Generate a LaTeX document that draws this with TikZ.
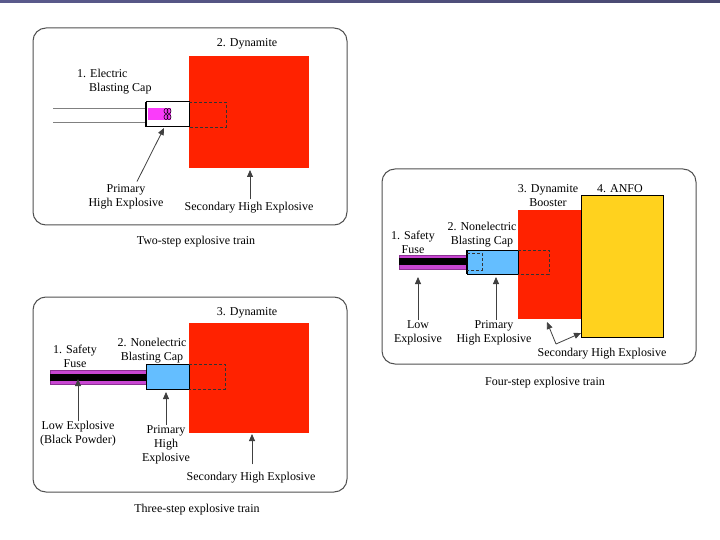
\documentclass[tikz,border=0pt]{standalone}
\usepackage{fontspec}
\setmainfont{Liberation Serif}
\usetikzlibrary{arrows.meta}
\definecolor{dynred}{RGB}{255,34,0}
\definecolor{capmag}{RGB}{250,60,250}
\definecolor{fusemag}{RGB}{200,70,210}
\definecolor{capblue}{RGB}{100,190,255}
\definecolor{anfoyel}{RGB}{255,210,30}
\definecolor{framegray}{RGB}{80,80,80}
\definecolor{topbar}{RGB}{90,90,140}
\tikzset{
  panel/.style={draw=framegray, line width=1pt, rounded corners=13pt},
  lbl/.style={font=\fontsize{12}{14}\selectfont, align=center, inner sep=0pt},
  arr/.style={draw=black!75, line width=0.8pt, -{Triangle[length=7pt,width=6pt]}},
  dashbox/.style={draw=black!80, dashed, line width=0.8pt, dash pattern=on 3pt off 2pt},
  solidbox/.style={draw=black, line width=1pt},
}
\begin{document}
\begin{tikzpicture}[x=1pt,y=-1pt]
\useasboundingbox (0,0) rectangle (720,540);
\fill[white] (0,0) rectangle (720,540);
\fill[left color=topbar, right color=topbar!80!black] (0,0) rectangle (720,2.5);

% ---------- Panel 1: two-step ----------
\draw[panel] (33,28) rectangle (347,225);
\fill[dynred] (189,56) rectangle (309,168);
\draw[gray, line width=0.8pt] (53,108) -- (146,108);
\draw[gray, line width=0.8pt] (53,122) -- (146,122);
\draw[solidbox, fill=white] (146,102) rectangle (189,127);
\draw[line width=1.8pt] (146,102) -- (146,127);
\fill[capmag] (147.5,108.5) rectangle (171,120);
\draw[black, line width=0.6pt] (166,111) ellipse (2pt and 2.5pt);
\draw[black, line width=0.6pt] (169,111) ellipse (2pt and 2.5pt);
\draw[black, line width=0.6pt] (166,117) ellipse (2pt and 2.5pt);
\draw[black, line width=0.6pt] (169,117) ellipse (2pt and 2.5pt);
\draw[dashbox] (189,102) -- (226,102) -- (226,127) -- (189,127);
\node[lbl] (dyn1) at (247,44) {2. Dynamite};
\node[lbl, align=left, anchor=north west] (ebc) at (77,69) {1. Electric\\\hspace*{12pt}Blasting Cap};
\node[lbl] (phe1) at (126,197) {Primary\\High Explosive};
\node[lbl] (she1) at (249,208) {Secondary High Explosive};
\coordinate (t1a) at (164,128);
\coordinate (t1b) at (250,170);
\draw[arr] (phe1.north) ++(11,-3) coordinate (s1a) (s1a) -- (t1a);
\draw[arr] (she1.north) ++(1,-3) coordinate (s1b) (s1b) -- (t1b);
\node[lbl] (cap1) at (196,242) {Two-step explosive train};

% ---------- Panel 2: three-step ----------
\draw[panel] (33,297) rectangle (347,492);
\fill[dynred] (189,323) rectangle (309,433);
\draw[fill=fusemag, draw=fusemag!70!black, line width=0.5pt] (50,370) rectangle (146,384);
\fill[black] (50,374) rectangle (146,381);
\draw[solidbox, fill=capblue] (146,364) rectangle (189,389);
\draw[dashbox] (189,364) -- (225,364) -- (225,389) -- (189,389);
\node[lbl] (dyn2) at (247,313) {3. Dynamite};
\node[lbl] (sf2) at (75,356) {1. Safety\\Fuse};
\node[lbl] (nbc2) at (152,351) {2. Nonelectric\\Blasting Cap};
\node[lbl] (le2) at (78,434) {Low Explosive\\(Black Powder)};
\node[lbl] (phe2) at (166,445) {Primary\\High\\Explosive};
\node[lbl] (she2) at (251,478) {Secondary High Explosive};
\coordinate (t2a) at (78,379);
\coordinate (t2b) at (166,392);
\coordinate (t2c) at (252,434);
\draw[arr] (le2.north) ++(0,0) coordinate (s2a) (s2a) -- (t2a);
\draw[arr] (phe2.north) ++(0,-1) coordinate (s2b) (s2b) -- (t2b);
\draw[arr] (she2.north) ++(1,-8) coordinate (s2c) (s2c) -- (t2c);
\node[lbl] (cap2) at (197,510) {Three-step explosive train};

% ---------- Panel 3: four-step ----------
\draw[panel] (382,169) rectangle (696,364);
\draw[solidbox, fill=anfoyel] (581,196) rectangle (663,337);
\fill[dynred] (518,210) rectangle (581,319);
\draw[fill=fusemag, draw=fusemag!70!black, line width=0.5pt] (399,255) rectangle (467,269);
\fill[black] (399,258) rectangle (467,265);
\draw[solidbox, fill=capblue] (467,250) rectangle (518,274);
\draw[line width=1.8pt] (467,250) -- (467,274);
\draw[dashbox] (467,253) -- (482,253) -- (482,270) -- (467,270);
\draw[dashbox] (518,250) -- (549,250) -- (549,274) -- (518,274);
\node[lbl] (anfo) at (620,189) {4. ANFO};
\node[lbl] (boost) at (548,196) {3. Dynamite\\Booster};
\node[lbl] (sf3) at (413,242) {1. Safety\\Fuse};
\node[lbl] (nbc3) at (482,235) {2. Nonelectric\\Blasting Cap};
\node[lbl] (le3) at (418,333) {Low\\Explosive};
\node[lbl] (phe3) at (494,333) {Primary\\High Explosive};
\node[lbl] (she3) at (602,354) {Secondary High Explosive};
\coordinate (t3a) at (418,277);
\coordinate (t3b) at (496,277);
\coordinate (v3) at (556,344);
\coordinate (t3c) at (547,322);
\coordinate (t3d) at (581,333);
\draw[arr] (le3.north) ++(0,-1) coordinate (s3a) (s3a) -- (t3a);
\draw[arr] (phe3.north) ++(2,-1) coordinate (s3b) (s3b) -- (t3b);
\draw[arr] (v3) -- (t3c);
\draw[arr] (v3) -- (t3d);
\node[lbl] (cap3) at (545,383) {Four-step explosive train};
\end{tikzpicture}
\end{document}
